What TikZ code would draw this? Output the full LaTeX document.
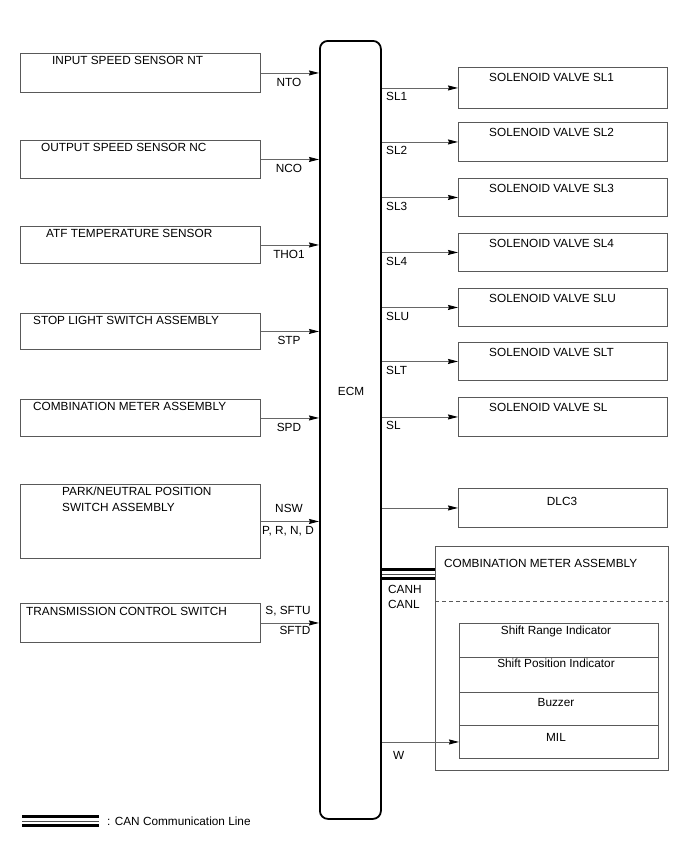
\documentclass[tikz,border=0pt]{standalone}
\usepackage{fontspec}
\setmainfont{Liberation Sans}
\usetikzlibrary{arrows.meta, positioning}

\begin{document}
\begin{tikzpicture}[x=1pt, y=-1pt, font=\fontsize{11.8}{13.5}\selectfont,
    unit/.style={draw=black!65, line width=0.9pt, inner sep=0pt, anchor=north west},
    sig/.style={draw=black!60, line width=0.9pt, -{Stealth[length=10pt, width=5pt, inset=1pt, color=black]}},
    txt/.style={inner sep=0pt, anchor=base west},
    sigtxt/.style={inner sep=0pt, anchor=base},
    canthick/.style={line width=3pt},
    canthin/.style={line width=1pt, draw=black!70}]
  \useasboundingbox (0,0) rectangle (688,852);

  % ECM
  \node[unit, draw=black, line width=1.8pt, rounded corners=8pt,
        minimum width=61pt, minimum height=778pt] (ecm) at (319,40) {};
  \node[sigtxt] (ecm-t) at (351,395) {ECM};

  % inputs
  \foreach \nm/\yt/\hh/\xt/\txt/\sg in {nt/53/39/52/INPUT SPEED SENSOR NT/NTO,
                                        nc/140/38/41/OUTPUT SPEED SENSOR NC/NCO,
                                        atf/226/37/46/ATF TEMPERATURE SENSOR/THO1,
                                        stp/313/36/33/STOP LIGHT SWITCH ASSEMBLY/STP,
                                        spd/399/37/33/COMBINATION METER ASSEMBLY/SPD} {
    \node[unit, minimum width=240pt, minimum height=\hh pt] (\nm) at (20,\yt) {};
    \node[txt] (\nm-t) at (\xt,\yt+11) {\txt};
    \draw[sig] (\nm.east) -- (\nm.east -| ecm.west);
    \node[sigtxt] (\nm-s) at (289,\yt+\hh/2+13.5) {\sg};
  }

  \node[unit, minimum width=240pt, minimum height=74pt] (nsw) at (20,484) {};
  \node[txt] (nsw-t1) at (62,495) {PARK/NEUTRAL POSITION};
  \node[txt] (nsw-t2) at (62,511) {SWITCH ASSEMBLY};
  \draw[sig] (nsw.east) -- (nsw.east -| ecm.west);
  \node[sigtxt] (nsw-s1) at (289,512) {NSW};
  \node[sigtxt] (nsw-s2) at (288,534) {P, R, N, D};

  \node[unit, minimum width=240pt, minimum height=39pt] (tcs) at (20,603) {};
  \node[txt] (tcs-t) at (26,615) {TRANSMISSION CONTROL SWITCH};
  \draw[sig] (tcs.east) -- (tcs.east -| ecm.west);
  \node[sigtxt] (tcs-s1) at (288,614) {S, SFTU};
  \node[sigtxt] (tcs-s2) at (295,634) {SFTD};

  % outputs
  \foreach \nm/\yt/\hh/\lb in {sl1/67/41/SL1, sl2/122/39/SL2, sl3/178/38/SL3,
                               sl4/233/38/SL4, slu/288/38/SLU, slt/342/38/SLT,
                               sl/397/39/SL} {
    \node[unit, minimum width=209pt, minimum height=\hh pt] (\nm) at (458,\yt) {};
    \node[txt] (\nm-t) at (489,\yt+14) {SOLENOID VALVE \lb};
    \draw[sig] (\nm.west -| ecm.east) -- (\nm.west);
    \node[txt] (\nm-s) at (386,\yt+\hh/2+13) {\lb};
  }

  \node[unit, minimum width=209pt, minimum height=39pt] (dlc) at (458,488) {};
  \node[sigtxt] (dlc-t) at (562,505) {DLC3};
  \draw[sig] (dlc.west -| ecm.east) -- (dlc.west);

  % combination meter
  \node[unit, minimum width=233pt, minimum height=224pt] (cmb) at (435,546) {};
  \node[txt] (cmb-t) at (444,567) {COMBINATION METER ASSEMBLY};
  \coordinate (dash) at (0,601);
  \draw[black!65, line width=0.9pt, dash pattern=on 4pt off 3pt] (cmb.west |- dash) -- (cmb.east |- dash);

  \foreach \nm/\yt/\hh/\yb/\txt in {sri/623/34/634/Shift Range Indicator,
                                    spi/657/35/667/Shift Position Indicator,
                                    buz/692/33/706/Buzzer,
                                    mil/725/33/741/MIL} {
    \node[unit, minimum width=199pt, minimum height=\hh pt] (\nm) at (459,\yt) {};
    \node[sigtxt] (\nm-t) at (556,\yb) {\txt};
  }
  \draw[sig] (mil.west -| ecm.east) -- (mil.west);
  \node[txt] (mil-s) at (393,759) {W};

  % CAN
  \coordinate (can1) at (0,569.5);
  \coordinate (can2) at (0,574);
  \coordinate (can3) at (0,578.5);
  \draw[canthick] (ecm.east |- can1) -- (cmb.west |- can1);
  \draw[canthin] (ecm.east |- can2) -- (cmb.west |- can2);
  \draw[canthick] (ecm.east |- can3) -- (cmb.west |- can3);
  \node[txt] (canh) at (388,593) {CANH};
  \node[txt] (canl) at (388,608) {CANL};

  % legend
  \draw[canthick] (22,816.5) -- (99,816.5);
  \draw[canthin] (22,821) -- (99,821);
  \draw[canthick] (22,825.5) -- (99,825.5);
  \node[txt] (leg) at (107,825) {: CAN Communication Line};
\end{tikzpicture}
\end{document}
